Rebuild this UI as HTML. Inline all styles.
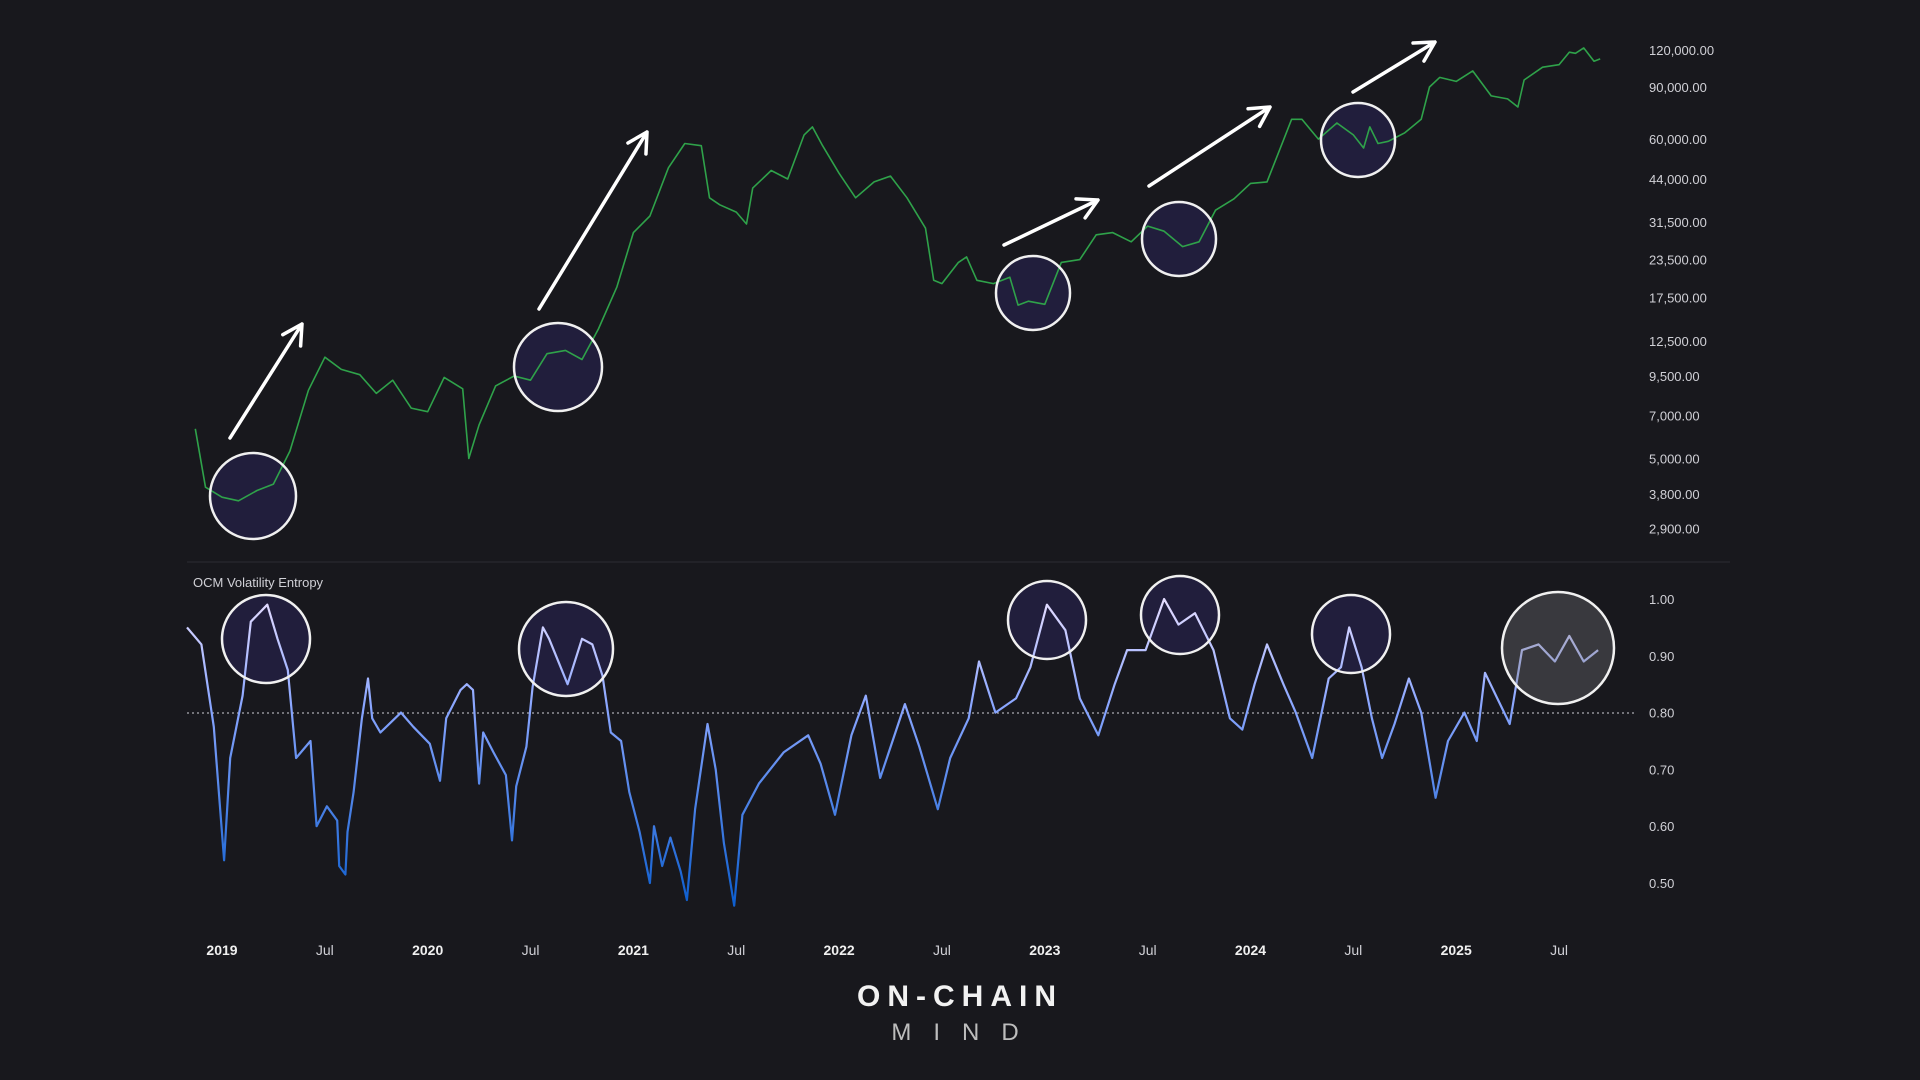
<!DOCTYPE html>
<html><head><meta charset="utf-8"><style>
html,body{margin:0;padding:0;background:#18181d;}
svg{display:block;font-family:"Liberation Sans",sans-serif;}
</style></head><body>
<svg id="chart" width="1920" height="1080" viewBox="0 0 1920 1080" xmlns="http://www.w3.org/2000/svg">
<defs>
<linearGradient id="vg" gradientUnits="userSpaceOnUse" x1="0" y1="600" x2="0" y2="900">
<stop offset="0" stop-color="#e4dcff"/><stop offset="0.35" stop-color="#8aa6ff"/><stop offset="1" stop-color="#0f5fcf"/>
</linearGradient>
</defs>
<rect width="1920" height="1080" fill="#18181d"/>
<line x1="187" y1="562" x2="1730" y2="562" stroke="#2c2c33" stroke-width="1"/>
<line x1="187" y1="713" x2="1637" y2="713" stroke="#cfcfd6" stroke-width="1" stroke-dasharray="2,3"/>
<text x="193" y="587" font-size="13" fill="#d0d0d6">OCM Volatility Entropy</text>
<g id="circles-back"></g>
<g id="price"></g>
<g id="vol"></g>
<g id="circles-front"></g>
<g id="arrows"></g>
<g id="yaxis"></g>
<g id="xaxis"></g>
<text x="960" y="1006" font-size="30" font-weight="600" fill="#f2f2f2" text-anchor="middle" letter-spacing="7">ON-CHAIN</text>
<text x="966" y="1040" font-size="24" fill="#bdbdbd" text-anchor="middle" letter-spacing="22">MIND</text>
</svg>
<script>
const priceDates=[2018.87,2018.92,2019.0,2019.08,2019.17,2019.25,2019.33,2019.42,2019.5,2019.58,2019.67,2019.75,2019.83,2019.92,2020.0,2020.08,2020.17,2020.2,2020.25,2020.33,2020.42,2020.5,2020.58,2020.67,2020.75,2020.83,2020.92,2021.0,2021.08,2021.17,2021.25,2021.33,2021.37,2021.42,2021.5,2021.55,2021.58,2021.67,2021.75,2021.83,2021.87,2021.92,2022.0,2022.08,2022.17,2022.25,2022.33,2022.42,2022.46,2022.5,2022.58,2022.62,2022.67,2022.75,2022.83,2022.87,2022.92,2023.0,2023.08,2023.17,2023.25,2023.33,2023.42,2023.5,2023.58,2023.67,2023.75,2023.83,2023.92,2024.0,2024.08,2024.17,2024.2,2024.25,2024.33,2024.42,2024.5,2024.55,2024.58,2024.62,2024.67,2024.75,2024.83,2024.87,2024.92,2025.0,2025.08,2025.17,2025.25,2025.3,2025.33,2025.42,2025.5,2025.55,2025.58,2025.62,2025.67,2025.7];
const priceValues=[6300,4000,3700,3600,3900,4100,5300,8500,11000,10000,9600,8300,9200,7400,7200,9400,8600,5000,6500,8800,9500,9200,11300,11600,10800,13700,19000,29000,33000,48000,58000,57000,38000,36000,34000,31000,41000,47000,44000,62000,66000,57000,46000,38000,43000,45000,38000,30000,20000,19500,23000,24000,20000,19500,20500,16500,17000,16600,23000,23500,28500,29000,27000,30500,29300,26000,27000,34500,37700,42500,43000,62000,70000,70000,60000,68000,62000,56000,66000,58000,59000,63000,70000,90000,97000,94000,102000,84000,82000,77000,95000,105000,107000,118000,117000,122000,110000,112000];
const volDates=[2018.83,2018.9,2018.96,2019.01,2019.04,2019.10,2019.14,2019.22,2019.27,2019.32,2019.36,2019.43,2019.46,2019.51,2019.56,2019.57,2019.60,2019.61,2019.64,2019.68,2019.71,2019.73,2019.77,2019.87,2019.93,2020.01,2020.06,2020.09,2020.16,2020.19,2020.22,2020.25,2020.27,2020.32,2020.38,2020.41,2020.43,2020.48,2020.51,2020.56,2020.59,2020.68,2020.75,2020.80,2020.85,2020.89,2020.94,2020.98,2021.03,2021.08,2021.10,2021.14,2021.18,2021.23,2021.26,2021.30,2021.36,2021.40,2021.44,2021.49,2021.53,2021.61,2021.73,2021.85,2021.91,2021.98,2022.06,2022.13,2022.20,2022.32,2022.39,2022.48,2022.54,2022.63,2022.68,2022.76,2022.86,2022.93,2023.01,2023.10,2023.17,2023.26,2023.34,2023.40,2023.49,2023.58,2023.65,2023.73,2023.82,2023.90,2023.96,2024.02,2024.08,2024.16,2024.22,2024.30,2024.38,2024.44,2024.48,2024.54,2024.59,2024.64,2024.70,2024.77,2024.83,2024.90,2024.96,2025.04,2025.10,2025.14,2025.20,2025.26,2025.32,2025.40,2025.48,2025.55,2025.62,2025.69];
const volValues=[0.95,0.92,0.775,0.54,0.72,0.83,0.96,0.99,0.93,0.875,0.72,0.75,0.60,0.635,0.61,0.53,0.515,0.59,0.66,0.79,0.86,0.79,0.765,0.80,0.775,0.745,0.68,0.79,0.84,0.85,0.84,0.675,0.765,0.73,0.69,0.575,0.67,0.74,0.845,0.95,0.93,0.85,0.93,0.92,0.865,0.765,0.75,0.66,0.59,0.50,0.60,0.53,0.58,0.52,0.47,0.63,0.78,0.70,0.57,0.46,0.62,0.675,0.73,0.76,0.71,0.62,0.76,0.83,0.685,0.815,0.74,0.63,0.72,0.79,0.89,0.80,0.825,0.88,0.99,0.945,0.825,0.76,0.85,0.91,0.91,1.0,0.955,0.975,0.91,0.79,0.77,0.85,0.92,0.85,0.80,0.72,0.86,0.88,0.95,0.88,0.79,0.72,0.78,0.86,0.80,0.65,0.75,0.80,0.75,0.87,0.825,0.78,0.91,0.92,0.89,0.935,0.89,0.91];
const priceTicks=[120000,90000,60000,44000,31500,23500,17500,12500,9500,7000,5000,3800,2900];
const volTicks=[1.0,0.9,0.8,0.7,0.6,0.5];
const xTickDates=[2019,2019.5,2020,2020.5,2021,2021.5,2022,2022.5,2023,2023.5,2024,2024.5,2025,2025.5];
const xTickLabels=["2019","Jul","2020","Jul","2021","Jul","2022","Jul","2023","Jul","2024","Jul","2025","Jul"];

const NS="http://www.w3.org/2000/svg";
const xs=d=>222+(d-2019)*205.7;
const yp=v=>50+(Math.log10(120000)-Math.log10(v))*296;
const yv=v=>599+(1-v)*568;
function mk(tag,parent,attrs){const e=document.createElementNS(NS,tag);for(const k in attrs)e.setAttribute(k,attrs[k]);document.getElementById(parent).appendChild(e);return e;}

const priceCircles=[[253,496,43],[558,367,44],[1033,293,37],[1179,239,37],[1358,140,37]];
const volCircles=[[266,639,44],[566,649,47],[1047,620,39],[1180,615,39],[1351,634,39]];
priceCircles.concat(volCircles).forEach(c=>{
 const e=mk('circle','circles-back',{cx:c[0],cy:c[1],r:c[2],fill:'#211e3c'});
 
 
 const s=mk('circle','circles-front',{cx:c[0],cy:c[1],r:c[2],fill:'none',stroke:'#f0f0f0','stroke-width':2.5});
 
 
});
const gc=mk('circle','circles-front',{cx:1558,cy:648,r:56,fill:'rgba(120,120,125,0.35)',stroke:'#f0f0f0','stroke-width':2.5});



let d='';priceDates.forEach((t,i)=>{d+=(i?'L':'M')+xs(t).toFixed(1)+','+yp(priceValues[i]).toFixed(1);});
const pl=mk('path','price',{d:d,fill:'none',stroke:'#2fa24a','stroke-width':1.6,'stroke-linejoin':'round'});



d='';volDates.forEach((t,i)=>{d+=(i?'L':'M')+xs(t).toFixed(1)+','+yv(volValues[i]).toFixed(1);});
const vl=mk('path','vol',{d:d,fill:'none',stroke:'url(#vg)','stroke-width':2.2,'stroke-linejoin':'round'});



const arrows=[[230,438,302,324],[539,309,647,132],[1004,245,1098,200],[1149,186,1270,107],[1353,92,1435,42]];
arrows.forEach(a=>{
 const ang=Math.atan2(a[3]-a[1],a[2]-a[0]),h=22;
 const p1=[a[2]-h*Math.cos(ang-0.5),a[3]-h*Math.sin(ang-0.5)],p2=[a[2]-h*Math.cos(ang+0.5),a[3]-h*Math.sin(ang+0.5)];
 const e=mk('path','arrows',{d:`M${a[0]},${a[1]}L${a[2]},${a[3]}M${p1[0]},${p1[1]}L${a[2]},${a[3]}L${p2[0]},${p2[1]}`,fill:'none',stroke:'#ffffff','stroke-width':3.5,'stroke-linecap':'round','stroke-linejoin':'round'});
 
 
});

priceTicks.forEach(v=>{
 const t=mk('text','yaxis',{x:1649,y:yp(v)+5,'font-size':13,fill:'#d0d0d6'});
 t.textContent=v.toLocaleString('en-US',{minimumFractionDigits:2});
 
 
});
volTicks.forEach(v=>{
 const t=mk('text','yaxis',{x:1649,y:yv(v)+5,'font-size':13,fill:'#d0d0d6'});
 t.textContent=v.toFixed(2);
 
 
});
xTickDates.forEach((t,i)=>{
 const yr=xTickLabels[i]!=='Jul';
 const e=mk('text','xaxis',{x:xs(t),y:955,'font-size':14,'font-weight':yr?'bold':'normal',fill:yr?'#f0f0f0':'#d0d0d6','text-anchor':'middle'});
 e.textContent=xTickLabels[i];
 
 
});
</script>
</body></html>
